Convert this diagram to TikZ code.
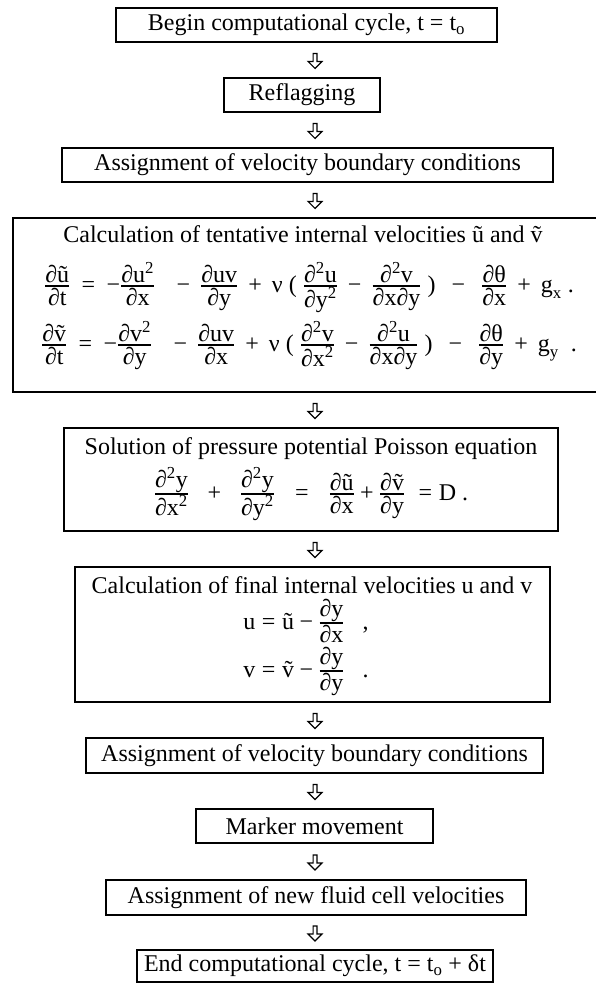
\RequirePackage{fix-cm}
\documentclass[tikz,border=0pt]{standalone}
\usepackage{amsmath}
\usepackage{fontspec}
\setmainfont{Liberation Serif}
\usetikzlibrary{shapes.arrows,calc}
\newcommand{\fs}{\fontsize{24}{28}\selectfont}
\newcommand{\fr}[2]{\genfrac{}{}{1.2pt}{1}{\mbox{#1}}{\mbox{#2}}}
\newcommand{\eqs}{\mathrel{\text{=}}}
\newcommand{\mns}{\mathbin{\text{−}}}
\newcommand{\pls}{\mathbin{\text{+}}}
\newcommand{\sqr}{\textsuperscript{2}}
\newcommand{\widesp}{\medmuskip=7.5mu plus 2mu minus 2mu\thickmuskip=8.5mu plus 2mu minus 2mu}
\begin{document}
\begin{tikzpicture}[x=1pt,y=-1pt,
  box/.style={draw, line width=1.9pt, inner sep=0pt, align=center, font=\fs},
  harrow/.style={single arrow, draw, line width=1.1pt, minimum width=14pt, minimum height=15pt,
    single arrow head extend=4pt, single arrow head indent=0pt, inner sep=1pt, shape border rotate=270},
  txt/.style={inner sep=0pt, font=\fs, anchor=base}]
\useasboundingbox (0,0) rectangle (596,984);
\coordinate (ax) at (315,0);
% boxes
\node[box, minimum width=381pt, minimum height=34pt] (b1) at (306.5,25) {Begin computational cycle, t = t\textsubscript{o}};
\node[box, minimum width=156pt, minimum height=34pt] (b2) at (302,95) {Reflagging};
\node[box, minimum width=491pt, minimum height=34pt] (b3) at (307.5,165) {Assignment of velocity boundary conditions};
\node[box, minimum width=587pt, minimum height=174pt] (b4) at (306.5,305) {};
\node[box, minimum width=494pt, minimum height=103pt] (b5) at (311,479.5) {};
\node[box, minimum width=475pt, minimum height=135pt] (b6) at (312.5,634.5) {};
\node[box, minimum width=457pt, minimum height=35pt] (b7) at (314.5,755.5) {Assignment of velocity boundary conditions};
\node[box, minimum width=237pt, minimum height=34pt] (b8) at (314.5,826) {Marker movement};
\node[box, minimum width=420pt, minimum height=35pt] (b9) at (316,897.5) {Assignment of new fluid cell velocities};
\node[box, minimum width=356pt, minimum height=32pt] (b10) at (315,966) {End computational cycle, t = t\textsubscript{o} + δt};
% box 4 content
\node[txt] (t4) at (303,243) {Calculation of tentative internal velocities ũ and ṽ};
\node[txt] (e4a) at (309,292) {$\widesp\fr{∂ũ}{∂t} \eqs \mns\fr{∂u\sqr}{∂x} \;\mns \fr{∂uv}{∂y} \pls \text{ν}\ \text{(}\ \fr{∂\sqr u}{∂y\sqr} \mns \fr{∂\sqr v}{∂x∂y}\ \text{)}\ \mns\ \fr{∂θ}{∂x} \pls \text{g}_{\text{x}}\ \text{.}$};
\node[txt] (e4b) at (309,351) {$\widesp\fr{∂ṽ}{∂t} \eqs \mns\fr{∂v\sqr}{∂y} \;\mns \fr{∂uv}{∂x} \pls \text{ν}\ \text{(}\ \fr{∂\sqr v}{∂x\sqr} \mns \fr{∂\sqr u}{∂x∂y}\ \text{)}\ \mns\ \fr{∂θ}{∂y} \pls \text{g}_{\text{y}}\ \ \text{.}$};
% box 5 content
\node[txt] (t5) at (311,454) {Solution of pressure potential Poisson equation};
\node[txt] (e5) at (311,500) {$\fr{∂\sqr y}{∂x\sqr} \;\;\pls\;\; \fr{∂\sqr y}{∂y\sqr} \;\;\eqs\;\; \fr{∂ũ}{∂x} \pls \fr{∂ṽ}{∂y} \;\eqs \text{D .}$};
% box 6 content
\node[txt] (t6) at (312,593) {Calculation of final internal velocities u and v};
\node[txt] (e6a) at (306,629) {$\text{u} \eqs \text{ũ} \mns \fr{∂y}{∂x}\ \ \ \text{,}$};
\node[txt] (e6b) at (306,677) {$\text{v} \eqs \text{ṽ} \mns \fr{∂y}{∂y}\ \ \ \text{.}$};
% arrows
\foreach \i/\j in {1/2,2/3,3/4,4/5,5/6,6/7,7/8,8/9,9/10}{
  \path (b\i.south) -- (b\j.north) coordinate[midway] (m\i);
  \node[harrow] (a\i) at (m\i -| ax) {};
}
\end{tikzpicture}
\end{document}
